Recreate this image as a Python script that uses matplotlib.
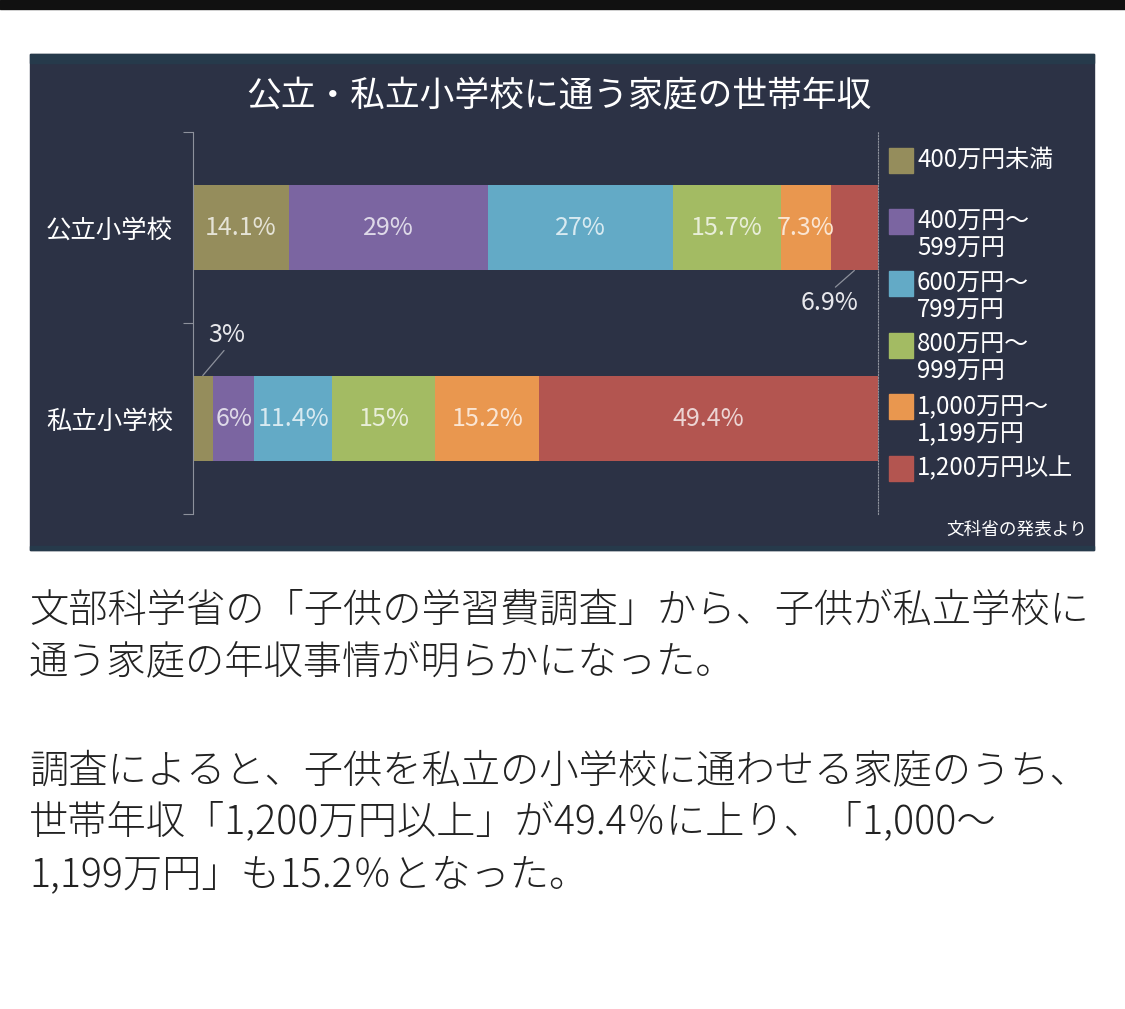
import matplotlib
matplotlib.use("Agg")
import matplotlib.pyplot as plt
from matplotlib.patches import Rectangle
from matplotlib.colors import to_rgb

plt.rcParams['font.family'] = ['Noto Sans CJK JP', 'DejaVu Sans']

# data
schools = ['公立小学校', '私立小学校']
brackets = ['400万円未満', '400万円～\n599万円', '600万円～\n799万円',
            '800万円～\n999万円', '1,000万円～\n1,199万円', '1,200万円以上']
public = [14.1, 29, 27, 15.7, 7.3, 6.9]
private = [3, 6, 11.4, 15, 15.2, 49.4]
colors = ['#958d5c', '#7b65a1', '#63aac6', '#a3bb63', '#e9974f', '#b35550']

title = '公立・私立小学校に通う家庭の世帯年収'
source = '文科省の発表より'
body = ['文部科学省の「子供の学習費調査」から、子供が私立学校に',
        '通う家庭の年収事情が明らかになった。',
        '',
        '調査によると、子供を私立の小学校に通わせる家庭のうち、',
        '世帯年収「1,200万円以上」が49.4％に上り、「1,000～',
        '1,199万円」も15.2％となった。']

W, H = 1125, 1009
panel = '#2c3245'
grey = '#8d919c'


def fx(x):
    return x / W


def fy(y):
    return 1 - y / H


def tint(c, k=0.75):
    r, g, b = to_rgb(c)
    return (r + (1 - r) * k, g + (1 - g) * k, b + (1 - b) * k)


fig = plt.figure(figsize=(W / 100, H / 100), dpi=100, facecolor='white')

# top bar of the page and the dark chart panel
fig.add_artist(Rectangle((0, fy(9)), 1, 9 / H, transform=fig.transFigure,
                         color='#111111', zorder=-2))
fig.add_artist(Rectangle((fx(30), fy(550)), fx(1094 - 30), 496 / H,
                         transform=fig.transFigure, color=panel, zorder=-2))
fig.add_artist(Rectangle((fx(30), fy(63)), fx(1094 - 30), 9 / H,
                         transform=fig.transFigure, color='#263a4b', zorder=-1))
fig.add_artist(Rectangle((fx(30), fy(550)), fx(1094 - 30), 4 / H,
                         transform=fig.transFigure, color='#263a4b', zorder=-1))

ax = fig.add_axes([fx(192.5), fy(514), fx(878 - 192.5), (514 - 132) / H])
ax.set_facecolor('none')

ypos = [0.5, 1.5]
h = 0.45
for row, vals in zip(ypos, [public, private]):
    left = 0
    for v, c in zip(vals, colors):
        ax.barh(row, v, left=left, height=h, color=c, edgecolor='none')
        left += v

# labels inside segments
skip = {(0, 5), (1, 0)}
for r, (row, vals) in enumerate(zip(ypos, [public, private])):
    left = 0
    for i, (v, c) in enumerate(zip(vals, colors)):
        if (r, i) not in skip:
            ax.text(left + v / 2, row, f'{v:g}%', ha='center', va='center',
                    color=tint(c), fontsize=18)
        left += v

# small segments labelled outside
ax.annotate(f'{private[0]:g}%', xy=(private[0] / 2, ypos[1] - h / 2),
            xytext=(17, 20), textcoords='offset points', ha='center', va='bottom',
            color='#e8e8ec', fontsize=18,
            arrowprops=dict(arrowstyle='-', color=grey, lw=0.9,
                            relpos=(0.5, 0), shrinkA=0, shrinkB=0))
ax.annotate(f'{public[5]:g}%', xy=(100 - public[5] / 2, ypos[0] + h / 2),
            xytext=(-18, -14), textcoords='offset points', ha='center', va='top',
            color='#e8e8ec', fontsize=18,
            arrowprops=dict(arrowstyle='-', color=grey, lw=0.9,
                            relpos=(0.55, 1), shrinkA=0, shrinkB=0))

ax.set_xlim(0, 100)
ax.set_ylim(2, 0)
ax.spines['top'].set_visible(False)
ax.spines['bottom'].set_visible(False)
ax.spines['left'].set_color(grey)
ax.spines['right'].set_color(grey)
ax.spines['right'].set_linestyle((0, (1, 1.5)))
ax.set_xticks([])
ax.set_yticks([0, 1, 2])
ax.set_yticklabels([])
ax.tick_params(axis='y', which='major', length=7, color=grey, direction='out')
ax.set_yticks(ypos, minor=True)
ax.set_yticklabels(schools, minor=True, color='white', fontsize=18.3)
ax.tick_params(axis='y', which='minor', length=0, pad=14)

# legend
for i, (lab, c) in enumerate(zip(brackets, colors)):
    yc = 160 + i * 61.7
    fig.add_artist(Rectangle((fx(889), fy(yc + 12.5)), fx(24), 25 / H,
                             transform=fig.transFigure, color=c))
    for j, line in enumerate(lab.split('\n')):
        fig.text(fx(917), fy(yc + j * 27), line, ha='left', va='center',
                 color='white', fontsize=17.3)

fig.text(fx(559), fy(97), title, ha='center', va='center', color='white',
         fontsize=25)
fig.text(fx(1087), fy(530), source, ha='right', va='center', color='white',
         fontsize=12.7)

# article text below the chart
body_y = [611, 663, 717, 771, 823, 876]
for line, y in zip(body, body_y):
    if line:
        fig.text(fx(29), fy(y), line, ha='left', va='center', color='#222222',
                 fontsize=28.3, fontweight='light')

fig.savefig('out.png', dpi=100, facecolor='white')
